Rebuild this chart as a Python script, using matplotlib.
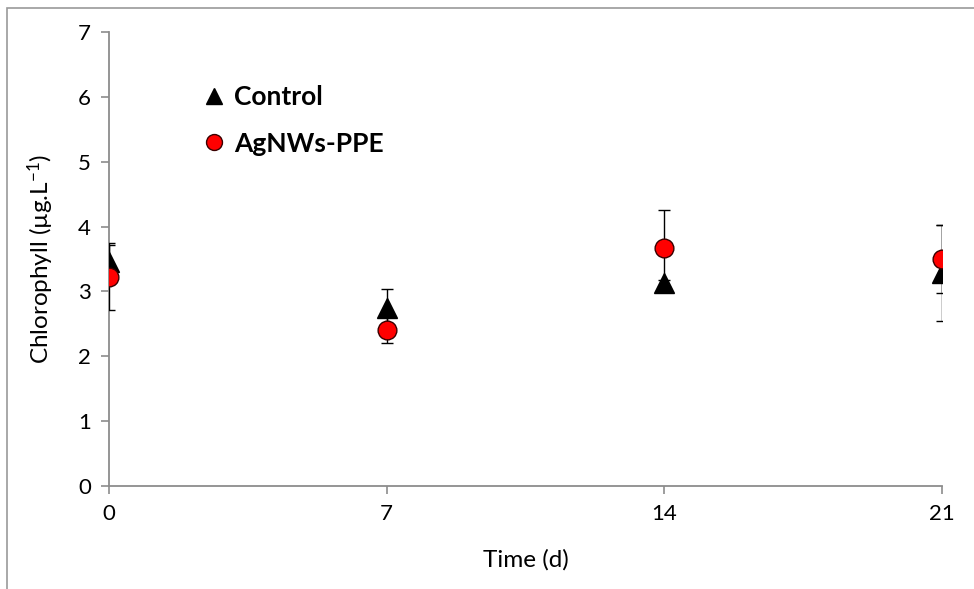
import matplotlib
matplotlib.use('Agg')
import matplotlib.pyplot as plt
from matplotlib.patches import Rectangle

plt.rcParams['font.family'] = ['Lato', 'DejaVu Sans']
plt.rcParams['mathtext.fontset'] = 'custom'
plt.rcParams['mathtext.rm'] = 'Lato'
plt.rcParams['mathtext.it'] = 'Lato:italic'

# data
days = [0, 7, 14, 21]
control = [3.45, 2.74, 3.13, 3.28]
control_err = [0.30, 0.30, 0.05, 0.74]
agnws = [3.22, 2.40, 3.67, 3.50]
agnws_err = [0.50, 0.20, 0.58, 0.53]

fig = plt.figure(figsize=(9.74, 5.89), dpi=100)
ax = fig.add_axes([0.1119, 0.1749, 0.8552, 0.7708])

# outer frame (extends past the right/bottom edge like the screenshot)
fig.patches.append(Rectangle((7 / 974, -0.05), 1.2, 1 - 8 / 589 + 0.05,
                             transform=fig.transFigure, fill=False,
                             edgecolor='#9a9a9a', lw=1.2))

ax.errorbar(days, control, yerr=control_err, fmt='^', color='black',
            markersize=14, ecolor='black', elinewidth=1, capsize=4,
            capthick=1, label='Control', zorder=3)
ax.errorbar(days, agnws, yerr=agnws_err, fmt='o', markerfacecolor='#ff0000',
            markeredgecolor='#3a0000', markeredgewidth=1, markersize=13.5,
            ecolor='black', elinewidth=1, capsize=4, capthick=1,
            label='AgNWs-PPE', zorder=4)

ax.set_xlim(0, 21)
ax.set_ylim(0, 7)
ax.set_xticks(days)
ax.set_yticks(range(8))
for s in ['top', 'right']:
    ax.spines[s].set_visible(False)
for s in ['left', 'bottom']:
    ax.spines[s].set_color('#8c8c8c')
    ax.spines[s].set_linewidth(1.3)
    ax.spines[s].set_clip_on(False)
ax.tick_params(colors='#8c8c8c', labelcolor='black', labelsize=16,
               length=6, width=1.2, pad=7)

ax.set_xlabel('Time (d)', fontsize=17.5, labelpad=18)
ax.set_ylabel('Chlorophyll (µg.L$^{\\mathrm{-1}}$)', fontsize=17.5, labelpad=16)

handles, labels = ax.get_legend_handles_labels()
handles = [h[0] for h in handles]
leg = ax.legend(handles, labels, loc='upper left', bbox_to_anchor=(0.082, 0.935),
                frameon=False, prop={'weight': 'bold', 'size': 19},
                handletextpad=0.25, labelspacing=0.85, handlelength=1.0,
                markerscale=0.85)

fig.savefig('out.png', dpi=100)
